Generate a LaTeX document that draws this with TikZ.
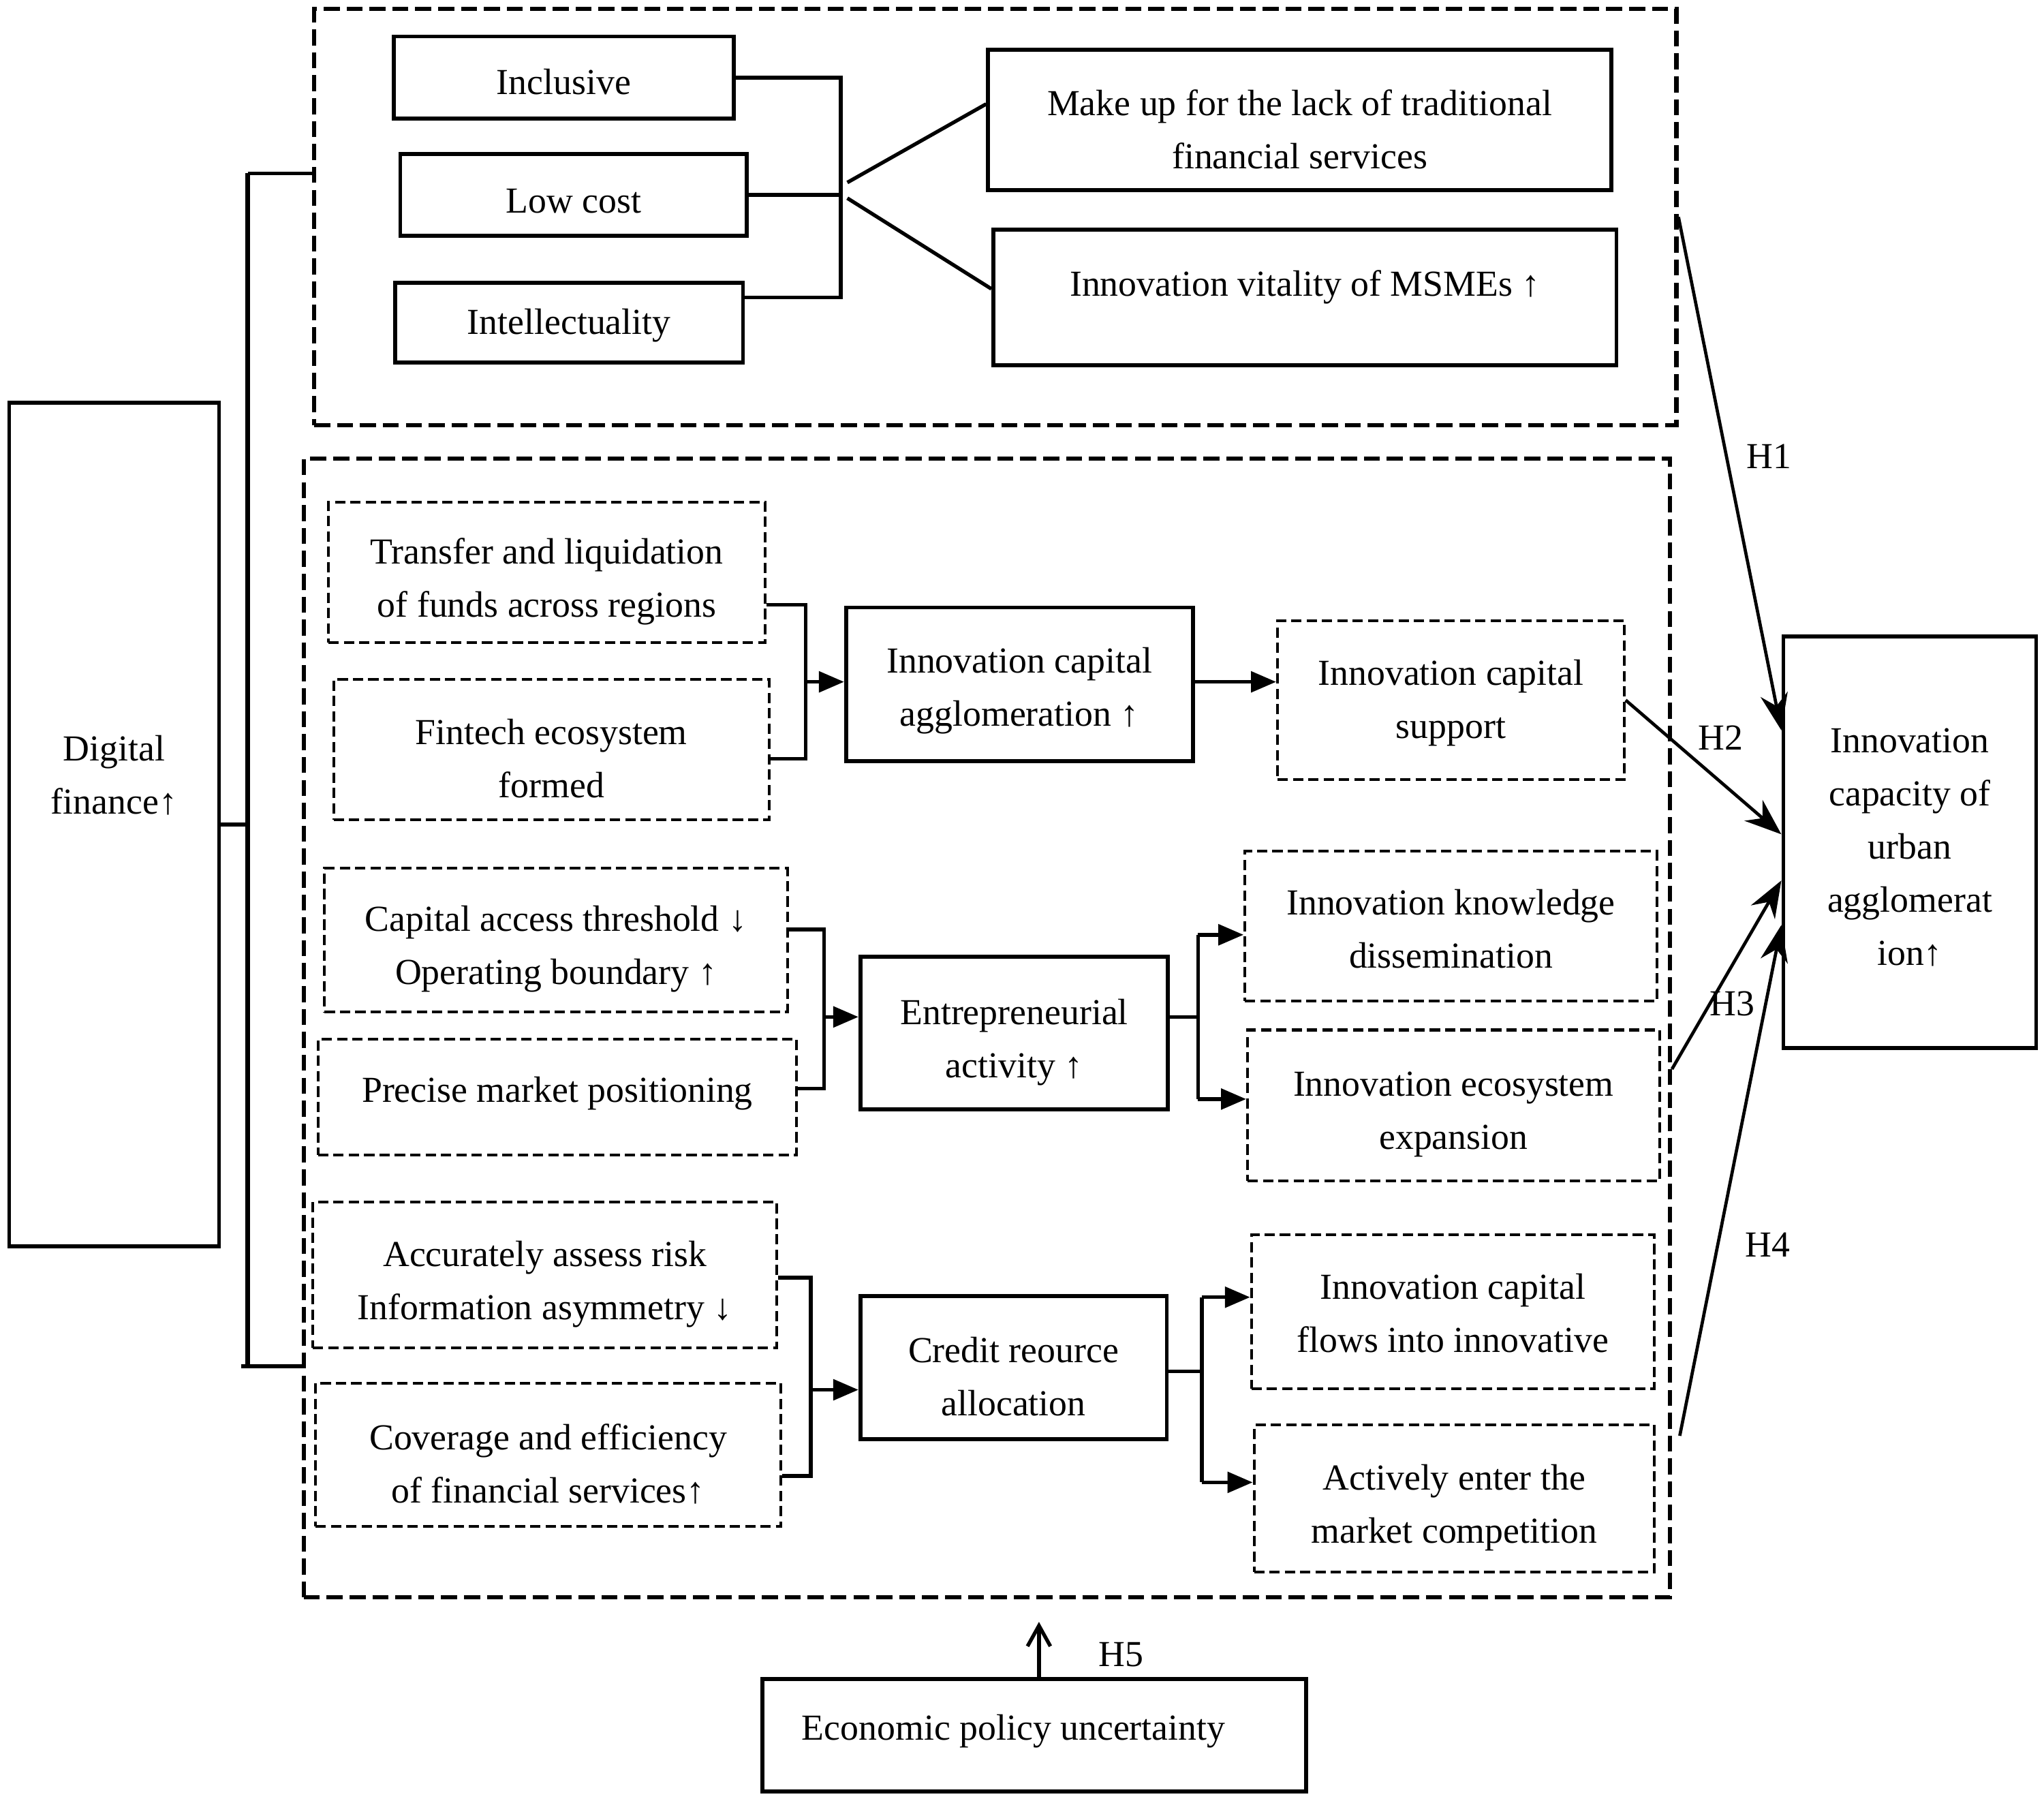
\documentclass[tikz,border=0pt]{standalone}
\usepackage{fontspec}
\setmainfont{Liberation Serif}
\usetikzlibrary{arrows.meta,fit,calc}
\begin{document}
\begin{tikzpicture}[x=0.02cm,y=-0.02cm]
\tikzset{
 lab/.style={font=\fontsize{16}{23.2}\selectfont, align=center, inner sep=0pt},
 txt/.style={label={[lab,yshift=-0.14cm]center:{#1}}},
 txts/.style n args={2}{label={[lab,yshift=#1]center:{#2}}},
 sbox/.style={draw, line width=1.7pt, inner sep=0pt},
 dbox/.style={draw, line width=1.2pt, dash pattern=on 4.5pt off 2.2pt, inner sep=0pt},
 obox/.style={draw, line width=1.8pt, dash pattern=on 7pt off 3pt, inner sep=0pt},
 conn/.style={line width=1.6pt},
 arr/.style={conn, -{Triangle[length=11pt,width=9pt]}},
 harr/.style={line width=1.4pt, -{Stealth[length=16pt,width=12pt]}},
 hlab/.style={font=\fontsize{16}{20}\selectfont}
}
\fill[white] (0,0) rectangle (1568,1381);
\useasboundingbox (0,0) rectangle (1568,1381);

% left
\node[sbox, fit={(7,309) (168,956)}, txts={0.76cm}{Digital\\finance↑}] (df) {};

% top group
\node[obox, fit={(241,7) (1286,326)}] (top) {};
\node[sbox, fit={(302,28) (563,91)}, txts={-0.07cm}{Inclusive}] (inc) {};
\node[sbox, fit={(307,118) (573,181)}, txts={-0.1cm}{Low cost}] (low) {};
\node[sbox, fit={(303,217) (570,278)}, txts={-0.04cm}{Intellectuality}] (intel) {};
\node[sbox, fit={(758,38) (1236,146)}, txt={Make up for the lack of traditional\\financial services}] (mk) {};
\node[sbox, fit={(762,176) (1240,280)}, txts={0.16cm}{Innovation vitality of MSMEs ↑}] (iv) {};

% bottom group
\node[obox, fit={(233,352) (1281,1225)}] (bot) {};
\node[dbox, fit={(252,385) (587,493)}, txt={Transfer and liquidation\\of funds across regions}] (tr) {};
\node[dbox, fit={(256,521) (590,629)}, txt={Fintech ecosystem\\formed}] (fin) {};
\node[sbox, fit={(649,466) (915,584)}, txts={-0.1cm}{Innovation capital\\agglomeration ↑}] (ica) {};
\node[dbox, fit={(980,476) (1246,598)}, txts={-0.04cm}{Innovation capital\\support}] (ics) {};

\node[dbox, fit={(249,666) (604,776)}, txt={Capital access threshold ↓\\Operating boundary ↑}] (cat) {};
\node[dbox, fit={(244,797) (611,886)}, txts={0.06cm}{Precise market positioning}] (pmp) {};
\node[sbox, fit={(660,734) (896,851)}, txt={Entrepreneurial\\activity ↑}] (ea) {};
\node[dbox, fit={(955,653) (1271,768)}, txts={-0.04cm}{Innovation knowledge\\dissemination}] (ikd) {};
\node[dbox, fit={(957,790) (1273,906)}, txt={Innovation ecosystem\\expansion}] (iee) {};

\node[dbox, fit={(240,922) (596,1034)}, txt={Accurately assess risk\\Information asymmetry ↓}] (aar) {};
\node[dbox, fit={(242,1061) (599,1171)}, txt={Coverage and efficiency\\of financial services↑}] (cef) {};
\node[sbox, fit={(660,994) (895,1104)}, txt={Credit reource\\allocation}] (cra) {};
\node[dbox, fit={(960,947) (1269,1065)}, txts={-0.02cm}{Innovation capital\\flows into innovative}] (icf) {};
\node[dbox, fit={(962,1093) (1269,1206)}, txt={Actively enter the\\market competition}] (aem) {};

% right and bottom
\node[sbox, fit={(1368,488) (1562,804)}, txts={-0.08cm}{Innovation\\capacity of\\urban\\agglomerat\\ion↑}] (cap) {};
\node[sbox, fit={(585,1288) (1002,1374)}, label={[lab,yshift=0.06cm,xshift=-0.32cm]center:{Economic policy uncertainty}}] (epu) {};

% digital finance bracket
\coordinate (dv1) at (190,133);
\coordinate (dv2) at (190,1048);
\coordinate (dv2l) at (185,1048);
\draw[conn] (df.east) -- (df.east -| dv1);
\draw[line width=2.2pt] (dv1) -- (dv2);
\draw[conn] (dv1) -- (dv1 -| top.west);
\draw[conn] (dv2l) -- (dv2 -| bot.west);

% top bracket
\coordinate (tj1) at (645,59);
\coordinate (tj3) at (645,228);
\draw[conn] (inc.east) -- (inc.east -| tj1) -- (tj3) -- (tj3 -| intel.east);
\draw[conn] (low.east) -- (low.east -| tj1);
\coordinate (tf1) at (650,140);
\coordinate (tf2) at (650,152);
\draw[conn] (tf1) -- ($(mk.north west)!0.39!(mk.south west)$);
\draw[conn] (tf2) -- ($(iv.north west)!0.44!(iv.south west)$);

% row 1
\coordinate (r1a) at (618,464);
\coordinate (r1b) at (618,582);
\coordinate (r1m) at (618,523);
\draw[conn] (r1a -| tr.east) -- (r1a) -- (r1b) -- (r1b -| fin.east);
\draw[arr] (r1m) -- (r1m -| ica.west);
\coordinate (r1e) at (915,523);
\draw[arr] (r1e) -- (r1e -| ics.west);

% row 2
\coordinate (r2a) at (632,713);
\coordinate (r2b) at (632,835);
\coordinate (r2m) at (632,780);
\draw[conn] (r2a -| cat.east) -- (r2a) -- (r2b) -- (r2b -| pmp.east);
\draw[arr] (r2m) -- (r2m -| ea.west);
\coordinate (r2c) at (919,717);
\coordinate (r2d) at (919,843);
\coordinate (r2e) at (919,780);
\draw[conn] (r2e -| ea.east) -- (r2e);
\draw[conn] (r2c) -- (r2d);
\draw[arr] (r2c) -- (r2c -| ikd.west);
\draw[arr] (r2d) -- (r2d -| iee.west);

% row 3
\coordinate (r3a) at (622,980);
\coordinate (r3b) at (622,1132);
\coordinate (r3m) at (622,1066);
\draw[conn] (r3a -| aar.east) -- (r3a) -- (r3b) -- (r3b -| cef.east);
\draw[arr] (r3m) -- (r3m -| cra.west);
\coordinate (r3c) at (922,995);
\coordinate (r3d) at (922,1137);
\coordinate (r3e) at (922,1052);
\draw[conn] (r3e -| cra.east) -- (r3e);
\draw[conn] (r3c) -- (r3d);
\draw[arr] (r3c) -- (r3c -| icf.west);
\draw[arr] (r3d) -- (r3d -| aem.west);

% hypotheses
\draw[harr] (top.east) -- ($(cap.north west)!0.231!(cap.south west)$);
\draw[harr] (ics.east) -- ($(cap.north west)!0.481!(cap.south west)$);
\draw[harr] ($(bot.north east)!0.536!(bot.south east)$) -- ($(cap.north west)!0.592!(cap.south west)$);
\draw[harr] ($(bot.north east)!0.857!(bot.south east)+(6,0)$) -- ($(cap.north west)!0.699!(cap.south west)$);
\node[hlab] (h1) at (1357,350) {H1};
\node[hlab] (h2) at (1320,566) {H2};
\node[hlab] (h3) at (1329,770) {H3};
\node[hlab] (h4) at (1356,955) {H4};

\coordinate (h5) at (797,1244);
\draw[line width=1.6pt, -{Straight Barb[length=9pt,width=10pt]}] (h5 |- epu.north) -- (h5);
\node[hlab] (h5l) at (860,1269) {H5};
\end{tikzpicture}
\end{document}
